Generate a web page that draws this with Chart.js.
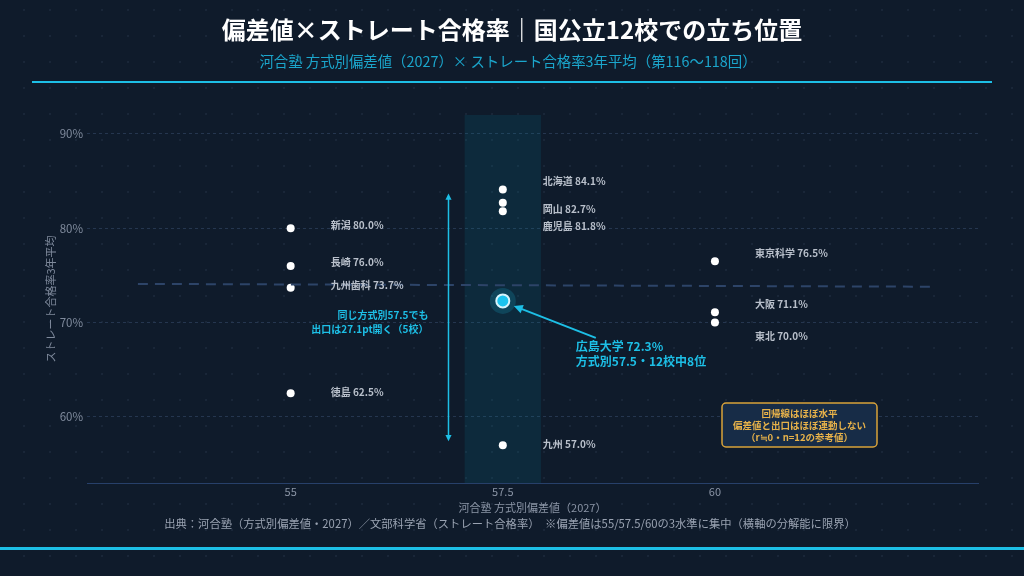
<!DOCTYPE html>
<html lang="ja">
<head>
<meta charset="utf-8">
<title>偏差値×ストレート合格率</title>
<script src="https://cdn.jsdelivr.net/npm/chart.js@4.4.1/dist/chart.umd.min.js"></script>
<style>
  html, body { margin: 0; padding: 0; overflow: hidden; background-color: #0f1b2b; }
  body {
    background-image: radial-gradient(circle, rgba(120, 140, 170, 0.10) 1px, transparent 1.3px);
    background-size: 26px 26px;
    background-position: 11px -3px;
  }
  canvas { display: block; }
</style>
</head>
<body>
<canvas id="chart-scatter" width="1024" height="576"></canvas>
<script>
const FONT = "'Noto Sans CJK JP', 'Noto Sans', sans-serif";

// data
const schools = ['新潟', '長崎', '九州歯科', '徳島', '北海道', '岡山', '鹿児島', '広島大学', '九州', '東京科学', '大阪', '東北'];
const hensachi = [55, 55, 55, 55, 57.5, 57.5, 57.5, 57.5, 57.5, 60, 60, 60];
const passRate = [80.0, 76.0, 73.7, 62.5, 84.1, 82.7, 81.8, 72.3, 57.0, 76.5, 71.1, 70.0];
const highlightSchool = '広島大学';
const xTicks = [55, 57.5, 60];
const yTicks = [60, 70, 80, 90];
// regression line ends
const regX = [53.2, 62.6];
const regY = [74.1, 73.8];

// label nudges (px) so the stacked labels don't collide
const labelDy = [-3, -4, -2, -1, -8, 6, 15, 0, -1, -8, -8, 14];

const titleText = '偏差値×ストレート合格率｜国公立12校での立ち位置';
const subtitleText = '河合塾 方式別偏差値（2027）× ストレート合格率3年平均（第116〜118回）';
const footerText = '出典：河合塾（方式別偏差値・2027）／文部科学省（ストレート合格率）　※偏差値は55/57.5/60の3水準に集中（横軸の分解能に限界）';

const CYAN = '#1dbfe6';
const hiIdx = schools.indexOf(highlightSchool);
const others = schools.map((s, i) => ({ x: hensachi[i], y: passRate[i], i })).filter(p => p.i !== hiIdx);
const hiPoint = { x: hensachi[hiIdx], y: passRate[hiIdx] };

// the 57.5 group, used by the band and the spread arrow
const midIdx = hensachi.map((h, i) => h === 57.5 ? i : -1).filter(i => i >= 0);
const midMax = Math.max(...midIdx.map(i => passRate[i]));
const midMin = Math.min(...midIdx.map(i => passRate[i]));

function arrowHead(ctx, x1, y1, x2, y2, size) {
    const a = Math.atan2(y2 - y1, x2 - x1);
    ctx.beginPath();
    ctx.moveTo(x2, y2);
    ctx.lineTo(x2 - size * Math.cos(a - 0.45), y2 - size * Math.sin(a - 0.45));
    ctx.lineTo(x2 - size * Math.cos(a + 0.45), y2 - size * Math.sin(a + 0.45));
    ctx.closePath();
    ctx.fill();
}

const decorations = {
    id: 'decorations',
    beforeDatasetsDraw(chart) {
        const { ctx, chartArea, scales: { x } } = chart;
        const x1 = x.getPixelForValue(57.05);
        const x2 = x.getPixelForValue(57.95);
        ctx.save();
        ctx.fillStyle = 'rgba(0, 150, 180, 0.13)';
        ctx.fillRect(x1, chartArea.top, x2 - x1, chartArea.bottom - chartArea.top);
        ctx.restore();
    },
    afterDatasetsDraw(chart) {
        const { ctx, chartArea, scales: { x, y } } = chart;
        ctx.save();

        // school labels
        ctx.font = `600 10px ${FONT}`;
        ctx.fillStyle = '#b9c0cb';
        ctx.textBaseline = 'middle';
        ctx.textAlign = 'left';
        schools.forEach((s, i) => {
            if (i === hiIdx) return;
            const px = x.getPixelForValue(hensachi[i]) + 40;
            const py = y.getPixelForValue(passRate[i]) + labelDy[i];
            ctx.fillText(`${s} ${passRate[i].toFixed(1)}%`, px, py);
        });

        // spread arrow for the 57.5 group
        const ax = x.getPixelForValue(56.86);
        const top = y.getPixelForValue(midMax) + 4;
        const bot = y.getPixelForValue(midMin) - 4;
        ctx.strokeStyle = CYAN;
        ctx.fillStyle = CYAN;
        ctx.lineWidth = 1.5;
        ctx.beginPath();
        ctx.moveTo(ax, top + 3);
        ctx.lineTo(ax, bot - 3);
        ctx.stroke();
        arrowHead(ctx, ax, bot, ax, top, 7);
        arrowHead(ctx, ax, top, ax, bot, 7);

        ctx.font = `bold 10px ${FONT}`;
        ctx.textAlign = 'right';
        const spread = (midMax - midMin).toFixed(1);
        ctx.fillText('同じ方式別57.5でも', ax - 20, y.getPixelForValue(70) - 7);
        ctx.fillText(`出口は${spread}pt開く（${midIdx.length}校）`, ax - 20, y.getPixelForValue(70) + 7);

        // Hiroshima callout
        const hx = x.getPixelForValue(hiPoint.x);
        const hy = y.getPixelForValue(hiPoint.y);
        ctx.lineWidth = 2;
        ctx.beginPath();
        ctx.moveTo(hx + 93, hy + 37);
        ctx.lineTo(hx + 16, hy + 7);
        ctx.stroke();
        arrowHead(ctx, hx + 93, hy + 37, hx + 11, hy + 5, 10);
        ctx.font = `bold 12px ${FONT}`;
        ctx.textAlign = 'left';
        ctx.fillText(`${highlightSchool} ${hiPoint.y.toFixed(1)}%`, hx + 73, hy + 46);
        const rank = [...passRate].sort((a, b) => b - a).indexOf(hiPoint.y) + 1;
        ctx.fillText(`方式別${hiPoint.x}・${schools.length}校中${rank}位`, hx + 73, hy + 61);

        // regression note box
        const bx = chartArea.right - 256, by = 403, bw = 155, bh = 44;
        ctx.fillStyle = '#172c47';
        ctx.strokeStyle = '#d9a33a';
        ctx.lineWidth = 1.5;
        ctx.beginPath();
        ctx.roundRect(bx, by, bw, bh, 4);
        ctx.fill();
        ctx.stroke();
        ctx.fillStyle = '#e7b24a';
        ctx.font = `bold 9.5px ${FONT}`;
        ctx.textAlign = 'center';
        ctx.fillText('回帰線はほぼ水平', bx + bw / 2, by + 10);
        ctx.fillText('偏差値と出口はほぼ連動しない', bx + bw / 2, by + 22);
        ctx.fillText(`（r≒0・n=${schools.length}の参考値）`, bx + bw / 2, by + 34);
        ctx.restore();
    },
    afterDraw(chart) {
        const { ctx, width } = chart;
        ctx.save();
        ctx.textAlign = 'center';
        ctx.textBaseline = 'middle';
        ctx.fillStyle = '#ffffff';
        ctx.font = `bold 24px ${FONT}`;
        ctx.fillText(titleText, width / 2, 30);
        ctx.fillStyle = '#1ba6cc';
        ctx.font = `14.4px ${FONT}`;
        ctx.fillText(subtitleText, width / 2 - 4, 62);

        ctx.fillStyle = CYAN;
        ctx.fillRect(32, 81, 960, 2);
        ctx.fillRect(0, 547, width, 3);

        ctx.fillStyle = '#9aa3b2';
        ctx.font = `11.3px ${FONT}`;
        ctx.fillText(footerText, width / 2 - 2, 524);
        ctx.restore();
    }
};

new Chart(document.getElementById('chart-scatter'), {
    type: 'scatter',
    data: {
        datasets: [
            {
                label: '回帰線',
                type: 'line',
                data: regX.map((v, i) => ({ x: v, y: regY[i] })),
                borderColor: '#2d4468',
                borderWidth: 2,
                borderDash: [10, 7],
                pointRadius: 0,
                fill: false
            },
            {
                label: '国公立',
                data: others,
                pointRadius: 4,
                pointBackgroundColor: '#ffffff',
                pointBorderWidth: 0
            },
            {
                label: 'halo',
                data: [hiPoint],
                pointRadius: 13,
                pointBackgroundColor: 'rgba(30, 195, 235, 0.18)',
                pointBorderWidth: 0
            },
            {
                label: highlightSchool,
                data: [hiPoint],
                pointRadius: 6.5,
                pointBackgroundColor: '#1cc4ef',
                pointBorderColor: '#ffffff',
                pointBorderWidth: 2
            }
        ]
    },
    options: {
        responsive: false,
        animation: false,
        layout: { padding: { top: 115, right: 46, bottom: 0, left: 0 } },
        plugins: {
            legend: { display: false },
            tooltip: { enabled: false }
        },
        scales: {
            x: {
                type: 'linear',
                min: 52.6,
                max: 63.1,
                afterBuildTicks: s => { s.ticks = xTicks.map(v => ({ value: v })); },
                afterFit: s => { s.height = 93; },
                grid: { display: false, drawTicks: false },
                border: { color: '#27406a', width: 1 },
                ticks: {
                    color: '#8b95a6',
                    padding: 2,
                    font: { family: FONT, size: 11 },
                    callback: v => String(v)
                },
                title: {
                    display: true,
                    text: '河合塾 方式別偏差値（2027）',
                    color: '#8b95a6',
                    font: { family: FONT, size: 11 },
                    padding: { top: 0, bottom: 62 }
                }
            },
            y: {
                min: 53,
                max: 92,
                afterBuildTicks: s => { s.ticks = yTicks.map(v => ({ value: v })); },
                afterFit: s => { s.width = 87; },
                grid: { color: '#25364f', lineWidth: 1, drawTicks: false },
                border: { display: false, dash: [3, 3] },
                ticks: {
                    color: '#7f8a9c',
                    padding: 4,
                    font: { family: FONT, size: 11.5 },
                    callback: v => v + '%'
                },
                title: {
                    display: true,
                    text: 'ストレート合格率3年平均',
                    color: '#7f8a9c',
                    font: { family: FONT, size: 11 },
                    padding: { top: 44, bottom: 0 }
                }
            }
        }
    },
    plugins: [decorations]
});
</script>
</body>
</html>
